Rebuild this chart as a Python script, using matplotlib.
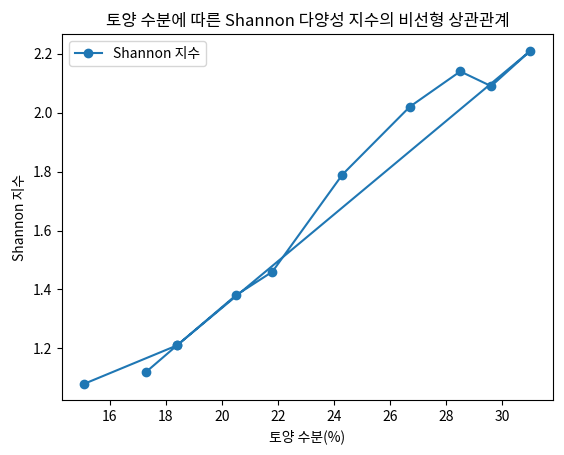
import matplotlib
matplotlib.use('Agg')
import matplotlib.pyplot as plt

plt.rcParams['font.family'] = ['Noto Sans CJK KR', 'DejaVu Sans']
plt.rcParams['axes.unicode_minus'] = False

# 토양 수분(%) 과 Shannon 지수 (그림 순서대로)
moisture = [15.1, 18.4, 31.0, 29.6, 28.5, 26.7, 24.3, 21.8, 20.5, 18.4, 17.3]
shannon = [1.08, 1.21, 2.21, 2.09, 2.14, 2.02, 1.79, 1.46, 1.38, 1.21, 1.12]

fig, ax = plt.subplots(figsize=(5.64, 4.55), dpi=100)
ax.plot(moisture, shannon, 'o-', color='#1f77b4', label='Shannon 지수')
ax.set_title('토양 수분에 따른 Shannon 다양성 지수의 비선형 상관관계')
ax.set_xlabel('토양 수분(%)')
ax.set_ylabel('Shannon 지수')
ax.legend(loc='upper left')
fig.subplots_adjust(left=0.11, right=0.98, top=0.925, bottom=0.12)
fig.savefig('out.png')
